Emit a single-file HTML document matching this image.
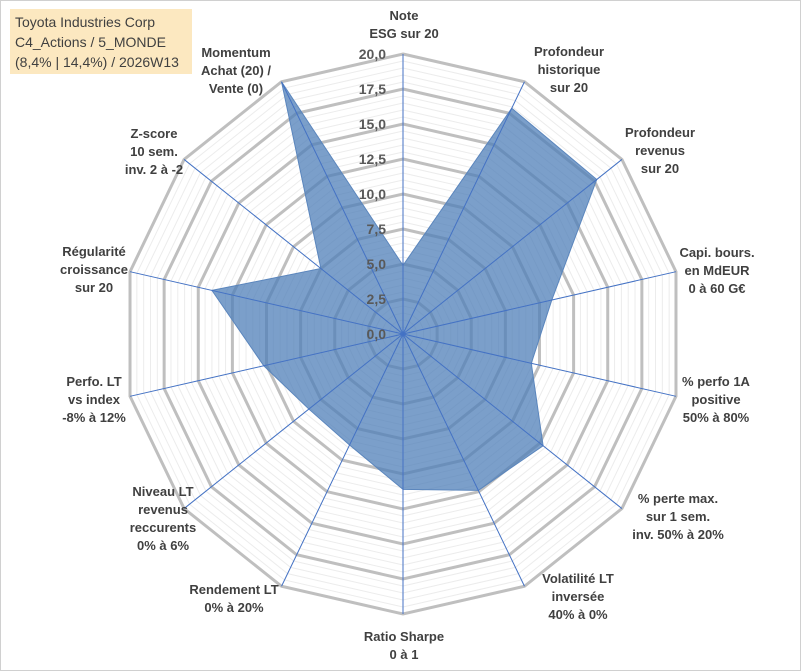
<!DOCTYPE html>
<html><head><meta charset="utf-8"><style>
html,body{margin:0;padding:0;background:#fff}
#wrap{position:relative;width:801px;height:671px;overflow:hidden}
svg{position:absolute;left:0;top:0}
text{font-family:"Liberation Sans",sans-serif}
</style></head><body>
<div id="wrap">
<svg id="chart" width="801" height="671"></svg>
</div>
<script>
const categories = [
  ["Note","ESG sur 20"],
  ["Profondeur","historique","sur 20"],
  ["Profondeur","revenus","sur 20"],
  ["Capi. bours.","en MdEUR","0 à 60 G€"],
  ["% perfo 1A","positive","50% à 80%"],
  ["% perte max.","sur 1 sem.","inv. 50% à 20%"],
  ["Volatilité LT","inversée","40% à 0%"],
  ["Ratio Sharpe","0 à 1"],
  ["Rendement LT","0% à 20%"],
  ["Niveau LT","revenus","reccurents","0% à 6%"],
  ["Perfo. LT","vs index","-8% à 12%"],
  ["Régularité","croissance","sur 20"],
  ["Z-score","10 sem.","inv. 2 à -2"],
  ["Momentum","Achat (20) /","Vente (0)"]
];
const values = [4.9, 17.9, 17.7, 10.9, 9.4, 12.8, 12.4, 11.1, 8.8, 8.6, 10.2, 14.0, 7.5, 20];
const tickLabels = ["0,0","2,5","5,0","7,5","10,0","12,5","15,0","17,5","20,0"];
const tickValues = [0,2.5,5,7.5,10,12.5,15,17.5,20];
const maxValue = 20;

const NS="http://www.w3.org/2000/svg";
const svg=document.getElementById('chart');
const cx=403, cy=334, R=280;
const n=categories.length;
function ang(i){return i*2*Math.PI/n;}
function pt(i,v){const r=v/maxValue*R;return [cx+r*Math.sin(ang(i)), cy-r*Math.cos(ang(i))];}
function mk(tag,attrs){const e=document.createElementNS(NS,tag);for(const k in attrs)e.setAttribute(k,attrs[k]);svg.appendChild(e);return e;}
// frame
let fr=mk('rect',{x:0.5,y:0.5,width:800,height:670,fill:'#fff',stroke:'#d0d0d0'});


// minor rings
for(let v=0.5;v<=maxValue+0.01;v+=0.5){
  if(Math.abs(v/2.5-Math.round(v/2.5))<0.001)continue;
  const p=[];for(let i=0;i<n;i++)p.push(pt(i,v).join(','));
  const e=mk('polygon',{points:p.join(' '),fill:'none',stroke:'#ececec','stroke-width':1});
  
  
}
// major rings
tickValues.forEach(v=>{
  if(v===0)return;
  const p=[];for(let i=0;i<n;i++)p.push(pt(i,v).join(','));
  const e=mk('polygon',{points:p.join(' '),fill:'none',stroke:'#bfbfbf','stroke-width':3});
  
  
});
// series
const sp=values.map((v,i)=>pt(i,v).join(',')).join(' ');
const s=mk('polygon',{points:sp,fill:'#4f7fb8','fill-opacity':0.75,stroke:'#5b86bd','stroke-width':1});


// axes
for(let i=0;i<n;i++){
  const [x,y]=pt(i,maxValue);
  const e=mk('line',{x1:cx,y1:cy,x2:x,y2:y,stroke:'#4472c4','stroke-width':1});
  
  
}
// tick labels
tickValues.forEach((v,k)=>{
  const t=mk('text',{x:386,y:cy-v/maxValue*R+5,'text-anchor':'end','font-size':14,'font-weight':'bold',fill:'#595959'});
  t.textContent=tickLabels[k];
  
  
});
// category labels
const labelPos=[[404,20],[569,56],[660,137],[717,257],[716,386],[678,503],[578,583],[404,641],[234,594],[163,496],[94,386],[94,256],[154,138],[236,57]];
categories.forEach((lines,i)=>{
  const [x,y]=labelPos[i];
  const t=mk('text',{x:x,y:y,'text-anchor':'middle','font-size':13,'font-weight':'bold',fill:'#404040'});
  
  
  lines.forEach((l,j)=>{const ts=document.createElementNS(NS,'tspan');ts.setAttribute('x',x);ts.setAttribute('y',y+j*18);ts.textContent=l;t.appendChild(ts);});
});
// title box
const tb=mk('rect',{x:10,y:9,width:182,height:65,fill:'#fce8c0'});


["Toyota Industries Corp","C4_Actions / 5_MONDE","(8,4% | 14,4%) / 2026W13"].forEach((l,j)=>{
  const t=mk('text',{x:15,y:27+j*20,'font-size':14,fill:'#404040'});
  t.textContent=l;
  
  
});
</script>
</body></html>
